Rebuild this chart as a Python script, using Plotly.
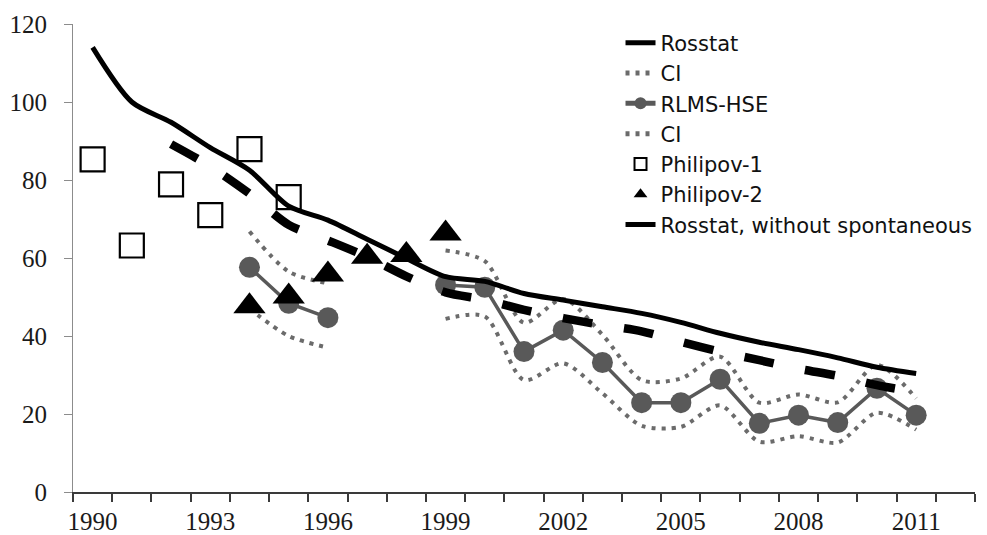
import plotly.graph_objects as go

rosstat_years = list(range(1990, 2012))
rosstat = [114, 100, 94.8, 88.3, 82.5, 73.3, 69.7, 64.8, 59.9, 55.2, 54.0,
           50.9, 49.2, 47.5, 45.8, 43.5, 40.7, 38.4, 36.5, 34.4, 32.0, 30.4]

rosstat_wo_years = list(range(1992, 2012))
rosstat_wo = [89.2, 83.5, 76.5, 68.5, 64.5, 60.3, 55.3, 51.2, 49.3, 46.7,
              44.6, 42.8, 41.2, 38.5, 36.0, 33.8, 31.6, 29.8, 27.4, 25.6]

rlms_years = list(range(1994, 2012))
rlms = [57.6, 48.4, 44.7, None, None, 53.1, 52.5, 36.0, 41.5, 33.2, 22.9,
        22.9, 28.9, 17.6, 19.7, 17.8, 26.6, 19.7]
ci_upper = [66.8, 56.5, 53.5, None, None, 61.9, 59.2, 43.4, 49.5, 40.3, 28.7,
            29.1, 34.7, 22.9, 25.0, 23.0, 32.6, 24.0]
ci_lower = [47.0, 40.0, 37.0, None, None, 44.4, 45.0, 28.7, 33.0, 25.3, 17.0,
            16.7, 22.2, 12.9, 14.3, 12.7, 20.3, 16.0]

phil1_years = list(range(1990, 1996))
phil1 = [85.3, 63.2, 78.9, 71.0, 87.9, 75.6]

phil2_years = list(range(1994, 2000))
phil2 = [47.6, 50.1, 55.8, 60.3, 60.8, 66.3]

x_tick_years = [1990, 1993, 1996, 1999, 2002, 2005, 2008, 2011]
y_ticks = [0, 20, 40, 60, 80, 100, 120]

LEG_FONT = dict(family="DejaVu Sans", size=21, color="#111111")
AX_FONT = dict(family="Liberation Serif", size=25, color="#1a1a1a")
GRAY = "#595959"
DOT_GRAY = "#6b6b6b"

fig = go.Figure()

fig.add_trace(go.Scatter(
    x=phil1_years, y=phil1, mode="markers", name="Philipov-1", legendrank=5,
    marker=dict(symbol="square", size=24, color="white",
                line=dict(color="black", width=2.2)),
))
fig.add_trace(go.Scatter(
    x=rlms_years, y=ci_upper, mode="lines", name="CI", legendrank=2,
    line=dict(color=DOT_GRAY, width=4, dash="4px,6px", shape="spline", smoothing=0.8),
    connectgaps=False,
))
fig.add_trace(go.Scatter(
    x=rlms_years, y=ci_lower, mode="lines", name="CI", legendrank=4,
    line=dict(color=DOT_GRAY, width=4, dash="4px,6px", shape="spline", smoothing=0.8),
    connectgaps=False,
))
fig.add_trace(go.Scatter(
    x=rlms_years, y=rlms, mode="lines+markers", name="RLMS-HSE", legendrank=3,
    line=dict(color=GRAY, width=3.5),
    marker=dict(symbol="circle", size=21, color=GRAY),
    connectgaps=False,
))
fig.add_trace(go.Scatter(
    x=phil2_years, y=phil2, mode="markers", name="Philipov-2", legendrank=6,
    marker=dict(symbol="triangle-up", size=28, color="black"),
))
fig.add_trace(go.Scatter(
    x=rosstat_years, y=rosstat, mode="lines", name="Rosstat", legendrank=1,
    line=dict(color="black", width=5, shape="spline", smoothing=0.8),
))
fig.add_trace(go.Scatter(
    x=rosstat_wo_years, y=rosstat_wo, mode="lines", name="Rosstat, without spontaneous",
    legendrank=7,
    line=dict(color="black", width=8.5, dash="30px,32px", shape="spline", smoothing=0.8),
))

fig.update_layout(
    width=987, height=535,
    margin=dict(l=73, r=12, t=24, b=43, autoexpand=False),
    paper_bgcolor="white", plot_bgcolor="white",
    showlegend=True,
    legend=dict(
        x=0.607, y=1.003, xanchor="left", yanchor="top",
        font=LEG_FONT, bgcolor="rgba(0,0,0,0)", borderwidth=0,
        traceorder="normal", itemsizing="constant",
        tracegroupgap=0,
    ),
    xaxis=dict(
        range=[1989.5, 2012.5], tickmode="array", tickvals=x_tick_years,
        ticktext=[str(y) for y in x_tick_years],
        ticks="", showgrid=False, zeroline=False, automargin=False,
        showline=True, linecolor="#3a3a3a", linewidth=1.5,
        tickfont=AX_FONT, ticklabelstandoff=6,
        minor=dict(tickmode="linear", tick0=1989.5, dtick=1, ticks="outside",
                   ticklen=8, tickwidth=1.5, tickcolor="#3a3a3a", showgrid=False),
        fixedrange=True,
    ),
    yaxis=dict(
        range=[0, 120], tickmode="array", tickvals=y_ticks,
        ticks="outside", ticklen=8, tickwidth=1, tickcolor="#8c8c8c",
        showgrid=False, zeroline=False, automargin=False,
        showline=True, linecolor="#8c8c8c", linewidth=1.2,
        tickfont=AX_FONT, ticklabelstandoff=12,
        fixedrange=True,
    ),
)

fig.write_html(
    "out.html",
    config={"displayModeBar": False},
    post_script="document.body.style.margin='0';document.body.style.overflow='hidden';",
)
